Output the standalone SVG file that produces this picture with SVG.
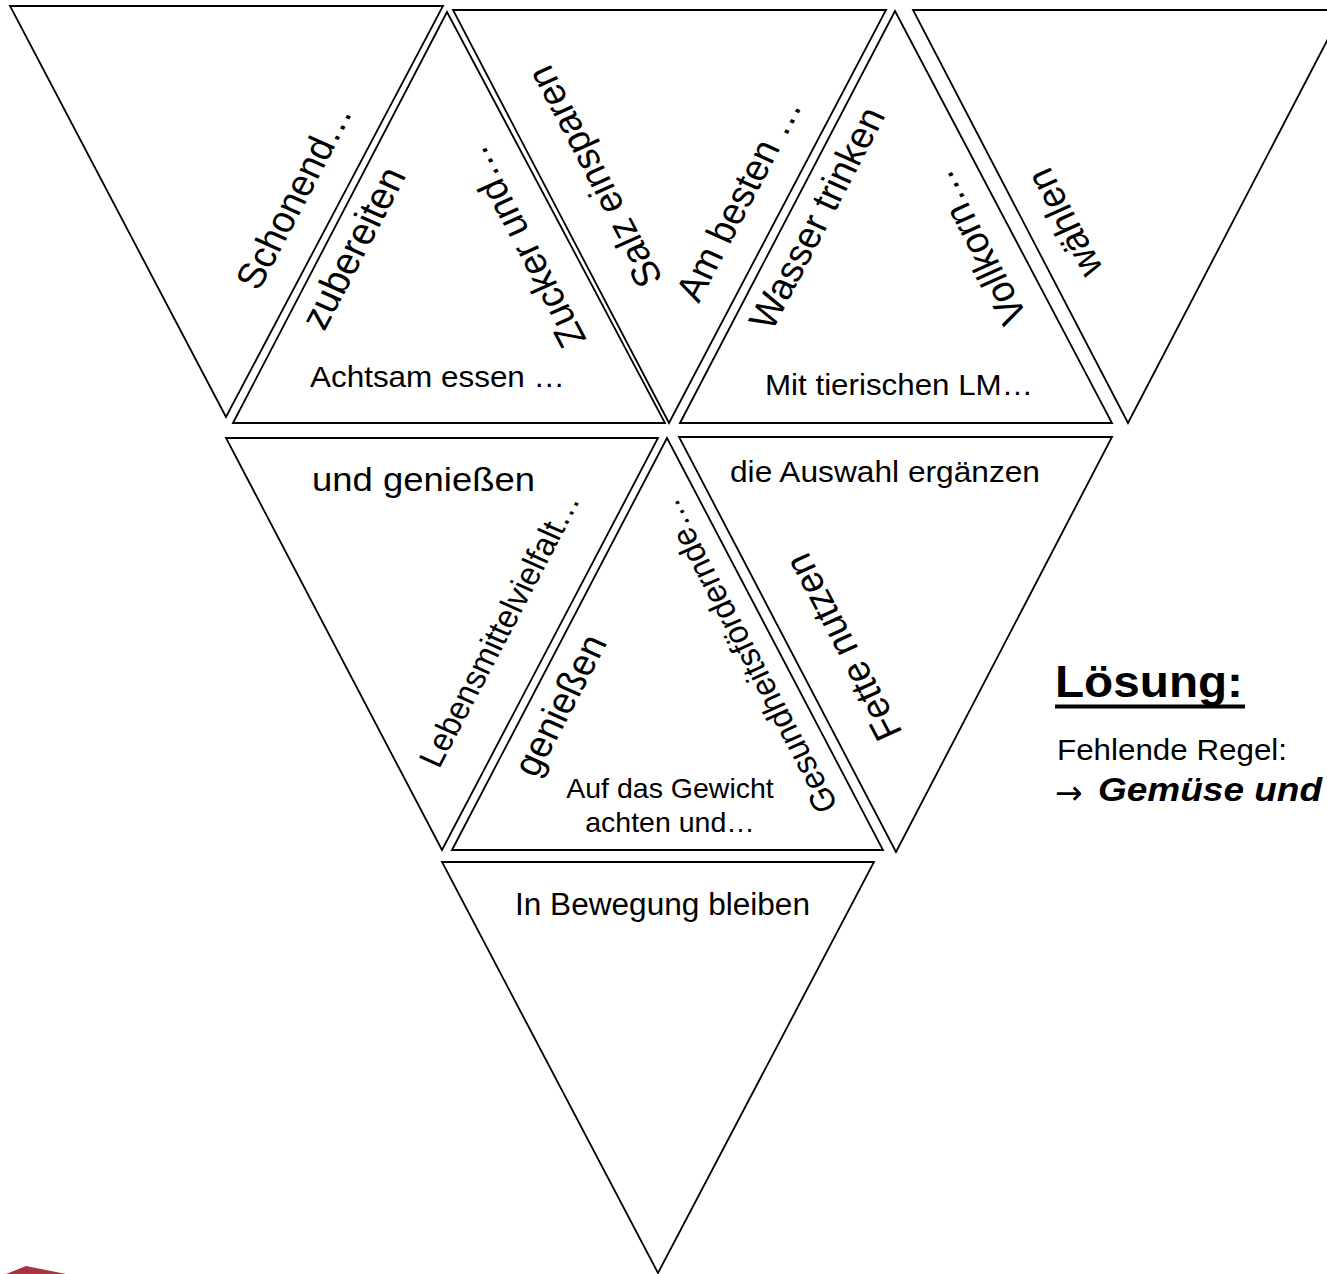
<svg xmlns="http://www.w3.org/2000/svg" width="1327" height="1274" viewBox="0 0 1327 1274">
<style>
.tri{fill:#fff;stroke:#000;stroke-width:1.8;stroke-linejoin:miter;stroke-miterlimit:10}
.t{font-family:"Liberation Sans",Arial,sans-serif;fill:#000}
.r1{text-anchor:middle}
</style>
<rect x="0" y="0" width="1327" height="1274" fill="#fff"/>
<g id="connectors"></g>
<g id="t1">
<polygon class="tri" points="10,6 443,6 226,417"/>
<text class="t r1" font-size="36.4" transform="translate(306 202) scale(1.08 1) rotate(-64.07)">Schonend…</text>
</g>
<g id="t2">
<polygon class="tri" points="233,423 447,12 665,423"/>
<text class="t r1" font-size="37.4" transform="translate(365.5 253.5) scale(1.08 1) rotate(-64.07)">zubereiten</text>
<text class="t r1" font-size="36.4" transform="translate(535.4 241.5) scale(1.08 1) rotate(-115.93)">Zucker und…</text>
<text class="t" font-size="30" x="310" y="387" textLength="255" lengthAdjust="spacingAndGlyphs">Achtsam essen …</text>
</g>
<g id="t3">
<polygon class="tri" points="453,10 886,10 669,423"/>
<text class="t r1" font-size="36.4" transform="translate(606.6 171.3) scale(1.08 1) rotate(-115.93)">Salz einsparen</text>
<text class="t r1" font-size="36.4" transform="translate(750.7 204.8) scale(1.08 1) rotate(-64.07)">Am besten …</text>
</g>
<g id="t4">
<polygon class="tri" points="680,423 895,11 1112,423"/>
<text class="t r1" font-size="36.4" transform="translate(829 223.5) scale(1.08 1) rotate(-64.07)">Wasser trinken</text>
<text class="t r1" font-size="36.4" transform="translate(988.8 242.2) scale(1.08 1) rotate(-115.93)">Vollkorn…</text>
<text class="t" font-size="30" x="765" y="395" textLength="268" lengthAdjust="spacingAndGlyphs">Mit tierischen LM…</text>
</g>
<g id="t5">
<polygon class="tri" points="913,10 1343,10 1128,423"/>
<text class="t r1" font-size="36.4" transform="translate(1076.5 217.5) scale(1.08 1) rotate(-115.93)">wählen</text>
</g>
<g id="t6">
<polygon class="tri" points="226,438 658,438 442,850"/>
<text class="t" font-size="33" x="312" y="491" textLength="223" lengthAdjust="spacingAndGlyphs">und genießen</text>
<text class="t r1" font-size="31.6" transform="translate(509.8 634.6) scale(1.08 1) rotate(-64.07)">Lebensmittelvielfalt…</text>
</g>
<g id="t7">
<polygon class="tri" points="452,850 667,438 883,850"/>
<text class="t r1" font-size="36.4" transform="translate(572.1 710.5) scale(1.08 1) rotate(-64.07)">genießen</text>
<text class="t r1" font-size="31.6" transform="translate(757.5 651.4) scale(1.08 1) rotate(-115.93)">Gesundheitsfördernde…</text>
<text class="t r1" font-size="28.5" x="670" y="798">Auf das Gewicht</text>
<text class="t r1" font-size="28.5" x="670" y="832">achten und…</text>
</g>
<g id="t8">
<polygon class="tri" points="679,437 1112,437 896,852"/>
<text class="t" font-size="30" x="730" y="482" textLength="310" lengthAdjust="spacingAndGlyphs">die Auswahl ergänzen</text>
<text class="t r1" font-size="36.4" transform="translate(855.2 641.8) scale(1.08 1) rotate(-115.93)">Fette nutzen</text>
</g>
<g id="t9">
<polygon class="tri" points="442,862 874,862 658,1273"/>
<text class="t" font-size="31" x="515" y="915" textLength="295" lengthAdjust="spacingAndGlyphs">In Bewegung bleiben</text>
</g>
<g id="solution">
<text class="t" font-size="45" font-weight="bold" x="1055" y="697" textLength="188" lengthAdjust="spacingAndGlyphs">Lösung:</text>
<rect x="1055" y="704.5" width="190" height="4" fill="#000"/>
<text class="t" font-size="30" x="1057" y="760" textLength="230" lengthAdjust="spacingAndGlyphs">Fehlende Regel:</text>
<text font-family="'DejaVu Sans',sans-serif" font-size="33" x="1055" y="804" fill="#000">→</text>
<text class="t" font-size="33" font-weight="bold" font-style="italic" x="1098" y="801" textLength="224" lengthAdjust="spacingAndGlyphs">Gemüse und</text>
</g>
<g id="logo">
<polygon points="6,1274 26,1266 66,1274" fill="#a8323f"/>
</g>
</svg>
